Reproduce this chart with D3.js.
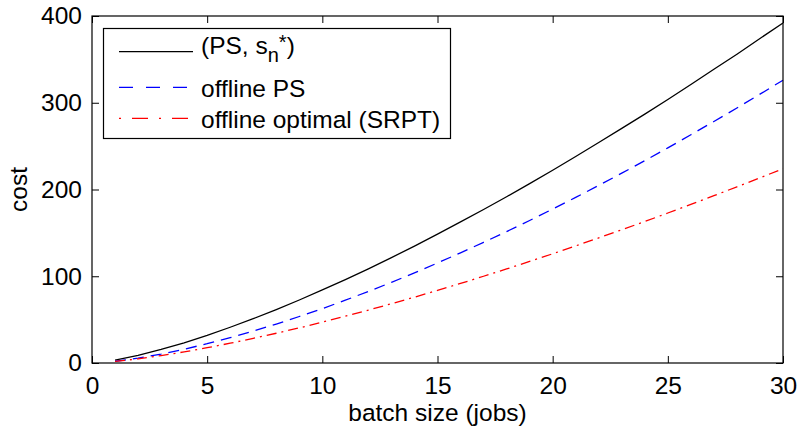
<!DOCTYPE html>
<html>
<head>
<meta charset="utf-8">
<script src="https://cdn.jsdelivr.net/npm/d3@7"></script>
<style>
  body { margin: 0; background: #fff; }
  svg { font-family: "Liberation Sans", Arial, Helvetica, sans-serif; }
</style>
</head>
<body>
<svg id="chart" width="799" height="427"></svg>
<script>
// batch sizes 1..30
const batchSize = d3.range(1, 31);
const psOpt = [3.4, 8.8, 15.6, 23.3, 31.9, 41.2, 51.1, 61.6, 72.6, 84.2, 96.2, 108.6, 121.5, 134.8, 148.5,
  162.6, 176.9, 191.7, 206.8, 222.2, 238.0, 254.1, 270.5, 286.9, 303.7, 321.1, 338.6, 356.0, 374.1, 392];
const offlinePS = [2.0, 5.6, 10.3, 15.9, 22.2, 29.2, 36.7, 44.9, 53.6, 62.7, 72.4, 82.5, 93.0, 103.9, 115.3,
  127.0, 139.1, 151.5, 164.3, 177.5, 190.9, 204.8, 218.8, 233.3, 248.0, 263.1, 278.4, 294.0, 309.9, 326];
const srpt = [1.8, 4.8, 8.5, 12.8, 17.6, 22.8, 28.4, 34.3, 40.5, 47.1, 53.9, 61.0, 68.3, 75.9, 83.7,
  91.7, 100.0, 108.4, 117.1, 125.9, 135.0, 144.2, 153.6, 163.1, 172.9, 182.8, 192.9, 203.1, 213.4, 224];

const xTicks = [0, 5, 10, 15, 20, 25, 30];
const yTicks = [0, 100, 200, 300, 400];

const series = [
  { name: "ps", values: psOpt, color: "#000", dash: null, legendDash: null },
  { name: "offline PS", values: offlinePS, color: "#0000ff", dash: "11,7", legendDash: "14,13" },
  { name: "offline optimal (SRPT)", values: srpt, color: "#ff0000", dash: "10,5,2,5", legendDash: "2,11,16,11" }
];

const fs = 24.5;
const svg = d3.select("#chart");
const plotL = 92, plotR = 783, plotT = 16, plotB = 363;

const x = d3.scaleLinear().domain([0, 30]).range([plotL, plotR]);
const y = d3.scaleLinear().domain([0, 400]).range([plotB, plotT]);

const line = d3.line()
  .x((d, i) => x(batchSize[i]))
  .y(d => y(d));

svg.selectAll("path.series")
  .data(series)
  .enter()
  .append("path")
  .attr("class", "series")
  .attr("d", d => line(d.values))
  .attr("fill", "none")
  .attr("stroke", d => d.color)
  .attr("stroke-width", 1.3)
  .attr("stroke-dasharray", d => d.dash);

// axes with inward ticks, box all round
const tickLen = 7;
const axisStyle = g => {
  g.select(".domain").remove();
  g.selectAll(".tick line").attr("stroke", "#000").attr("stroke-width", 1);
};

svg.append("g")
  .attr("transform", `translate(0,${plotB})`)
  .call(d3.axisBottom(x).tickValues(xTicks).tickSize(-tickLen).tickPadding(14))
  .call(axisStyle)
  .call(g => g.selectAll(".tick text").attr("font-size", fs).attr("fill", "#000").attr("font-family", null));

svg.append("g")
  .attr("transform", `translate(0,${plotT})`)
  .call(d3.axisTop(x).tickValues(xTicks).tickSize(-tickLen).tickFormat(""))
  .call(axisStyle);

svg.append("g")
  .attr("transform", `translate(${plotL},0)`)
  .call(d3.axisLeft(y).tickValues(yTicks).tickSize(-tickLen).tickPadding(10))
  .call(axisStyle)
  .call(g => g.selectAll(".tick text").attr("font-size", fs).attr("fill", "#000").attr("font-family", null));

svg.append("g")
  .attr("transform", `translate(${plotR},0)`)
  .call(d3.axisRight(y).tickValues(yTicks).tickSize(-tickLen).tickFormat(""))
  .call(axisStyle);

svg.append("rect")
  .attr("x", plotL).attr("y", plotT)
  .attr("width", plotR - plotL).attr("height", plotB - plotT)
  .attr("fill", "none").attr("stroke", "#000").attr("stroke-width", 1.2);

// axis titles
svg.append("text")
  .attr("x", (plotL + plotR) / 2)
  .attr("y", 421)
  .attr("text-anchor", "middle")
  .attr("font-size", fs)
  .text("batch size (jobs)");

svg.append("text")
  .attr("transform", `translate(27,${(plotT + plotB) / 2}) rotate(-90)`)
  .attr("text-anchor", "middle")
  .attr("font-size", fs)
  .text("cost");

// legend
const legend = svg.append("g");
legend.append("rect")
  .attr("x", 103.5).attr("y", 28.5)
  .attr("width", 347).attr("height", 110)
  .attr("fill", "#fff").attr("stroke", "#000").attr("stroke-width", 1.2);

const legendY = [51.7, 87.3, 118.3];
series.forEach((s, i) => {
  legend.append("line")
    .attr("x1", 119).attr("x2", 193)
    .attr("y1", legendY[i]).attr("y2", legendY[i])
    .attr("stroke", s.color).attr("stroke-width", 1.3)
    .attr("stroke-dasharray", s.legendDash);
});

const t0 = legend.append("text")
  .attr("x", 201).attr("y", 54)
  .attr("font-size", fs);
t0.append("tspan").text("(PS, s");
t0.append("tspan").attr("dy", 8).attr("font-size", 20).text("n");
t0.append("tspan").attr("dy", -13).attr("font-size", 20).text("*");
t0.append("tspan").attr("dy", 5).text(")");

legend.append("text").attr("x", 201).attr("y", 96.5).attr("font-size", fs).text("offline PS");
legend.append("text").attr("x", 201).attr("y", 127.5).attr("font-size", fs).text("offline optimal (SRPT)");
</script>
</body>
</html>
